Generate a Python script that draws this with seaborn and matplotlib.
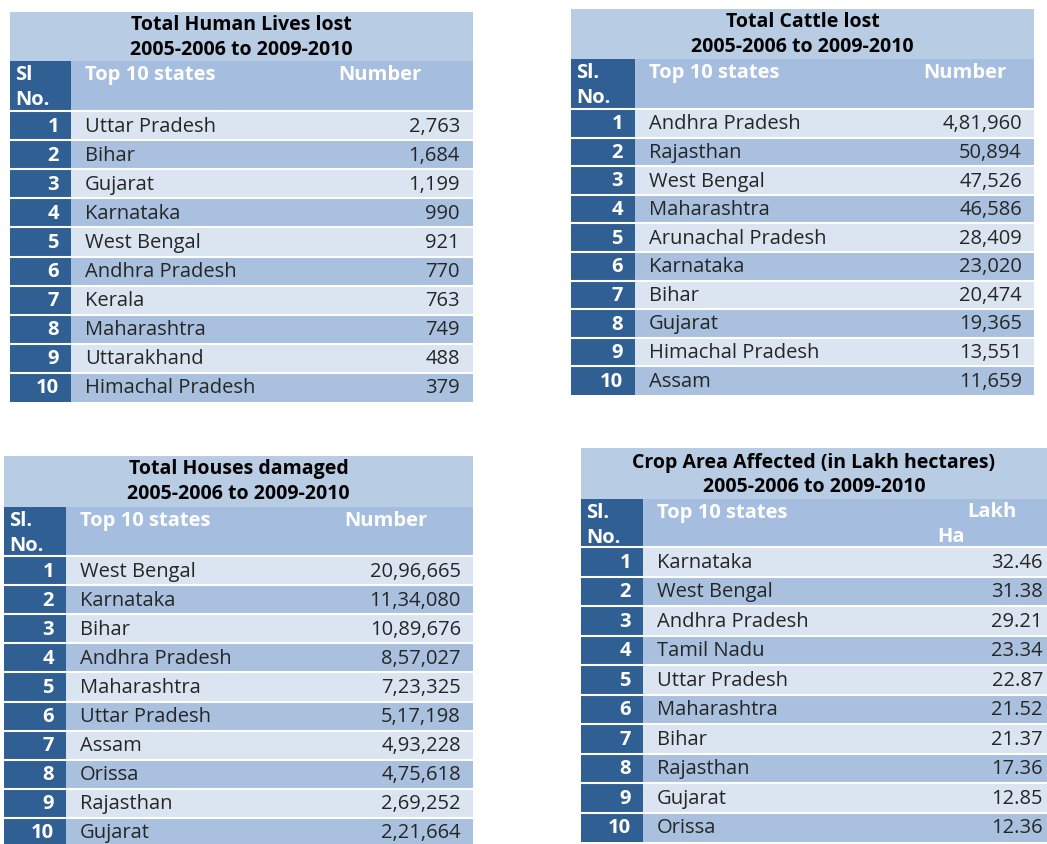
import matplotlib
matplotlib.use("Agg")
import matplotlib.pyplot as plt
import seaborn as sns
from matplotlib.patches import Rectangle

# Data
human_states = ["Uttar Pradesh", "Bihar", "Gujarat", "Karnataka", "West Bengal",
                "Andhra Pradesh", "Kerala", "Maharashtra", "Uttarakhand", "Himachal Pradesh"]
human_vals = [2763, 1684, 1199, 990, 921, 770, 763, 749, 488, 379]

cattle_states = ["Andhra Pradesh", "Rajasthan", "West Bengal", "Maharashtra", "Arunachal Pradesh",
                 "Karnataka", "Bihar", "Gujarat", "Himachal Pradesh", "Assam"]
cattle_vals = [481960, 50894, 47526, 46586, 28409, 23020, 20474, 19365, 13551, 11659]

house_states = ["West Bengal", "Karnataka", "Bihar", "Andhra Pradesh", "Maharashtra",
                "Uttar Pradesh", "Assam", "Orissa", "Rajasthan", "Gujarat"]
house_vals = [2096665, 1134080, 1089676, 857027, 723325, 517198, 493228, 475618, 269252, 221664]

crop_states = ["Karnataka", "West Bengal", "Andhra Pradesh", "Tamil Nadu", "Uttar Pradesh",
               "Maharashtra", "Bihar", "Rajasthan", "Gujarat", "Orissa"]
crop_vals = [32.46, 31.38, 29.21, 23.34, 22.87, 21.52, 21.37, 17.36, 12.85, 12.36]

titles = ["Total Human Lives lost", "Total Cattle lost",
          "Total Houses damaged", "Crop Area Affected (in Lakh hectares)"]
period = "2005-2006 to 2009-2010"


def indian(n):
    s = str(n)
    if len(s) <= 3:
        return s
    head, tail = s[:-3], s[-3:]
    parts = []
    while len(head) > 2:
        parts.insert(0, head[-2:])
        head = head[:-2]
    if head:
        parts.insert(0, head)
    return ",".join(parts) + "," + tail


sns.set_theme(style="white")
plt.rcParams["font.family"] = ["Open Sans", "DejaVu Sans"]

TITLE_BG = "#b8cce4"
HEAD_BG = "#a5bedf"
SL_BG = "#2f5f93"
LIGHT = "#dbe5f1"
MID = "#a9c1df"
TXT = "#262626"

fig = plt.figure(figsize=(10.47, 8.45), dpi=100)
ax = fig.add_axes([0, 0, 1, 1])
ax.set_xlim(0, 1047)
ax.set_ylim(845, 0)
ax.axis("off")

# layout per table
layouts = [
    dict(x0=10, x1=473, top=13, th=49, hh=50, rh=29.1, slw=61,
         name_x=85, val_x=460, head_x=380, sl_lbl="Sl", t1=25, t2=50),
    dict(x0=571, x1=1034, top=10, th=50, hh=50, rh=28.6, slw=64,
         name_x=649, val_x=1022, head_x=965, sl_lbl="Sl.", t1=22, t2=47),
    dict(x0=4, x1=473, top=457, th=51, hh=49, rh=29.1, slw=62,
         name_x=80, val_x=461, head_x=386, sl_lbl="Sl.", t1=469, t2=494),
    dict(x0=581, x1=1047, top=449, th=51, hh=48, rh=29.5, slw=62,
         name_x=657, val_x=1043, head_x=None, sl_lbl="Sl.", t1=463, t2=487),
]

tables = [
    (human_states, [indian(v) for v in human_vals]),
    (cattle_states, [indian(v) for v in cattle_vals]),
    (house_states, [indian(v) for v in house_vals]),
    (crop_states, [f"{v:.2f}" for v in crop_vals]),
]

fs = 14.5
for (states, vals), L, title in zip(tables, layouts, titles):
    x0, x1 = L["x0"], L["x1"]
    w = x1 - x0
    top = L["top"]
    # title band
    ax.add_patch(Rectangle((x0, top), w, L["th"], color=TITLE_BG, lw=0))
    ax.text((x0 + x1) / 2, L["t1"], title, ha="center", va="center",
            fontsize=14, fontweight="bold", color="black")
    ax.text((x0 + x1) / 2, L["t2"], period, ha="center", va="center",
            fontsize=14, fontweight="bold", color="black")
    # header row
    hy = top + L["th"]
    ax.add_patch(Rectangle((x0, hy), w, L["hh"], color=HEAD_BG, lw=0))
    ax.add_patch(Rectangle((x0, hy), L["slw"], L["hh"], color=SL_BG, lw=0))
    ax.text(x0 + 5, hy + 13, L["sl_lbl"], ha="left", va="center",
            fontsize=fs, fontweight="bold", color="white")
    ax.text(x0 + 5, hy + 38, "No.", ha="left", va="center",
            fontsize=fs, fontweight="bold", color="white")
    ax.text(L["name_x"], hy + 13, "Top 10 states", ha="left", va="center",
            fontsize=fs, fontweight="bold", color="white")
    if L["head_x"] is not None:
        ax.text(L["head_x"], hy + 13, "Number", ha="center", va="center",
                fontsize=fs, fontweight="bold", color="white")
    else:
        ax.text(1017, hy + 12, "Lakh", ha="right", va="center",
                fontsize=fs, fontweight="bold", color="white")
        ax.text(951, hy + 37, "Ha", ha="center", va="center",
                fontsize=fs, fontweight="bold", color="white")
    # data rows
    ry0 = hy + L["hh"]
    rh = L["rh"]
    for i, (st, v) in enumerate(zip(states, vals)):
        y = ry0 + i * rh
        ax.add_patch(Rectangle((x0, y), w, rh, color=LIGHT if i % 2 == 0 else MID, lw=0))
        ax.add_patch(Rectangle((x0, y), L["slw"], rh, color=SL_BG, lw=0))
        yc = y + rh / 2
        ax.text(x0 + L["slw"] - 12, yc, str(i + 1), ha="right", va="center",
                fontsize=fs, fontweight="bold", color="white")
        ax.text(L["name_x"], yc, st, ha="left", va="center", fontsize=fs, color=TXT)
        ax.text(L["val_x"], yc, v, ha="right", va="center", fontsize=fs, color=TXT)
        ax.plot([x0, x1], [y, y], color="white", lw=1.5)

fig.savefig("out.png", dpi=100)
